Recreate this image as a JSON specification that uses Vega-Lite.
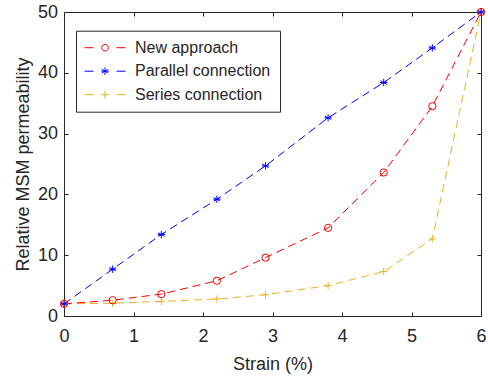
{
  "$schema": "https://vega.github.io/schema/vega-lite/v6.json",
  "width": 417,
  "height": 304,
  "autosize": {"type": "none"},
  "padding": {"left": 64, "top": 12, "right": 7, "bottom": 60},
  "background": "white",
  "data": {"values": [
    {"strain": 0, "perm": 2.0, "series": "New approach"},
    {"strain": 0.7, "perm": 2.6, "series": "New approach"},
    {"strain": 1.4, "perm": 3.6, "series": "New approach"},
    {"strain": 2.2, "perm": 5.8, "series": "New approach"},
    {"strain": 2.9, "perm": 9.6, "series": "New approach"},
    {"strain": 3.8, "perm": 14.5, "series": "New approach"},
    {"strain": 4.6, "perm": 23.6, "series": "New approach"},
    {"strain": 5.3, "perm": 34.5, "series": "New approach"},
    {"strain": 6, "perm": 50, "series": "New approach"},
    {"strain": 0, "perm": 2.0, "series": "Parallel connection"},
    {"strain": 0.7, "perm": 7.7, "series": "Parallel connection"},
    {"strain": 1.4, "perm": 13.4, "series": "Parallel connection"},
    {"strain": 2.2, "perm": 19.2, "series": "Parallel connection"},
    {"strain": 2.9, "perm": 24.7, "series": "Parallel connection"},
    {"strain": 3.8, "perm": 32.6, "series": "Parallel connection"},
    {"strain": 4.6, "perm": 38.4, "series": "Parallel connection"},
    {"strain": 5.3, "perm": 44.1, "series": "Parallel connection"},
    {"strain": 6, "perm": 50, "series": "Parallel connection"},
    {"strain": 0, "perm": 2.0, "series": "Series connection"},
    {"strain": 0.7, "perm": 2.1, "series": "Series connection"},
    {"strain": 1.4, "perm": 2.4, "series": "Series connection"},
    {"strain": 2.2, "perm": 2.8, "series": "Series connection"},
    {"strain": 2.9, "perm": 3.5, "series": "Series connection"},
    {"strain": 3.8, "perm": 5.0, "series": "Series connection"},
    {"strain": 4.6, "perm": 7.3, "series": "Series connection"},
    {"strain": 5.3, "perm": 12.7, "series": "Series connection"},
    {"strain": 6, "perm": 50, "series": "Series connection"}
  ]},
  "layer": [
    {
      "transform": [{"filter": "datum.series == 'Series connection'"}],
      "mark": {"type": "line", "strokeDash": [8, 5], "strokeWidth": 1, "clip": false, "stroke": "#EDB120"},
      "encoding": {
        "x": {"field": "strain", "type": "quantitative", "scale": {"domain": [0, 6], "nice": false, "zero": false},
              "axis": {"orient": "bottom", "values": [0, 1, 2, 3, 4, 5, 6], "title": "Strain (%)", "grid": false,
                       "tickSize": -4, "labelPadding": 15, "titlePadding": 10, "titleFontSize": 18, "labelFontSize": 18, "labelFlush": false}},
        "y": {"field": "perm", "type": "quantitative", "scale": {"domain": [0, 50], "nice": false, "zero": true},
              "axis": {"orient": "left", "values": [0, 10, 20, 30, 40, 50], "title": "Relative MSM permeability", "grid": false,
                       "tickSize": -4, "labelPadding": 10.5, "titlePadding": 5, "titleFontSize": 18, "labelFontSize": 18, "labelFlush": false}}
      }
    },
    {
      "transform": [{"filter": "datum.series == 'Parallel connection'"}],
      "mark": {"type": "line", "strokeDash": [8, 5], "strokeWidth": 1, "clip": false, "stroke": "#0000ff"},
      "encoding": {
        "x": {"field": "strain", "type": "quantitative", "axis": null},
        "y": {"field": "perm", "type": "quantitative", "axis": null}
      }
    },
    {
      "transform": [{"filter": "datum.series == 'New approach'"}],
      "mark": {"type": "line", "strokeDash": [8, 5], "strokeWidth": 1, "clip": false, "stroke": "#ff0000"},
      "encoding": {
        "x": {"field": "strain", "type": "quantitative", "axis": null},
        "y": {"field": "perm", "type": "quantitative", "axis": null}
      }
    },
    {
      "transform": [{"filter": "datum.series == 'Series connection'"}],
      "mark": {"type": "point", "filled": false, "size": 53, "strokeWidth": 1, "opacity": 1, "clip": false, "stroke": "#EDB120", "shape": "M0,-1V1M-1,0H1"},
      "encoding": {
        "x": {"field": "strain", "type": "quantitative", "axis": null},
        "y": {"field": "perm", "type": "quantitative", "axis": null}
      }
    },
    {
      "transform": [{"filter": "datum.series == 'Parallel connection'"}],
      "mark": {"type": "point", "filled": false, "size": 53, "strokeWidth": 1, "opacity": 1, "clip": false, "stroke": "#0000ff", "shape": "M0,-1V1M-0.87,-0.5L0.87,0.5M-0.87,0.5L0.87,-0.5M-1,0H1"},
      "encoding": {
        "x": {"field": "strain", "type": "quantitative", "axis": null},
        "y": {"field": "perm", "type": "quantitative", "axis": null}
      }
    },
    {
      "transform": [{"filter": "datum.series == 'New approach'"}],
      "mark": {"type": "point", "filled": false, "size": 53, "strokeWidth": 1, "opacity": 1, "clip": false, "stroke": "#ff0000", "shape": "circle"},
      "encoding": {
        "x": {"field": "strain", "type": "quantitative", "axis": null},
        "y": {"field": "perm", "type": "quantitative", "axis": null}
      }
    },
    {
      "transform": [{"filter": "datum.strain < 0"}],
      "mark": {"type": "point", "filled": false, "strokeWidth": 1, "opacity": 1},
      "encoding": {
        "x": {"field": "strain", "type": "quantitative",
              "axis": {"orient": "top", "values": [0, 1, 2, 3, 4, 5, 6], "labels": false, "title": null, "grid": false, "tickSize": -4}},
        "y": {"field": "perm", "type": "quantitative",
              "axis": {"orient": "right", "values": [0, 10, 20, 30, 40, 50], "labels": false, "title": null, "grid": false, "tickSize": -4}},
        "color": {"field": "series", "type": "nominal",
                  "scale": {"domain": ["New approach", "Parallel connection", "Series connection"], "range": ["#ff0000", "#0000ff", "#EDB120"]},
                  "legend": {
                    "orient": "none", "legendX": 12, "legendY": 18.7, "title": null,
                    "padding": 9, "strokeColor": "#262626", "fillColor": "white",
                    "symbolSize": 100, "symbolOffset": 12, "labelOffset": 22, "rowPadding": 7.5,
                    "labelFontSize": 16, "labelColor": "#262626", "labelFont": "Liberation Sans",
                    "labelExpr": "datum.label + '      '",
                    "symbolStrokeWidth": 1, "symbolFillColor": "transparent"
                  }},
        "shape": {"field": "series", "type": "nominal",
                  "scale": {"domain": ["New approach", "Parallel connection", "Series connection"],
                            "range": [
                              "M-4.1,0H-2.3M2.3,0H4.1M0.66,0L0.572,0.33L0.33,0.572L0,0.66L-0.33,0.572L-0.572,0.33L-0.66,0L-0.572,-0.33L-0.33,-0.572L0,-0.66L0.33,-0.572L0.572,-0.33Z",
                              "M-4.1,0H-2.3M2.3,0H4.1M0,-0.75V0.75M-0.65,-0.38L0.65,0.38M-0.65,0.38L0.65,-0.38M-0.75,0H0.75",
                              "M-4.1,0H-2.3M2.3,0H4.1M0,-0.8V0.8M-0.8,0H0.8"
                            ]}}
      }
    }
  ],
  "resolve": {"axis": {"x": "independent", "y": "independent"}},
  "config": {
    "view": {"stroke": null},
    "font": "Liberation Sans",
    "axis": {"domainColor": "#262626", "tickColor": "#262626", "labelColor": "#262626", "titleColor": "#262626",
             "labelFont": "Liberation Sans", "titleFont": "Liberation Sans", "titleFontWeight": "normal", "domainWidth": 1, "tickWidth": 1}
  }
}
